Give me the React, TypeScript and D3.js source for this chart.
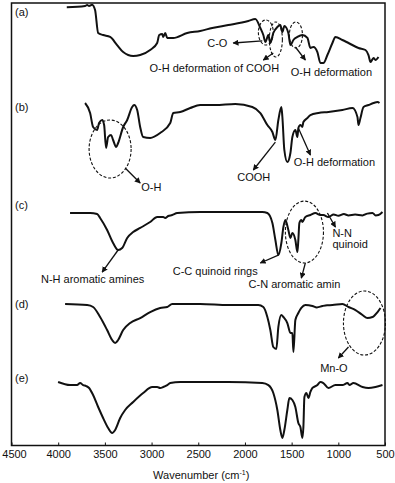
import { useEffect, useRef } from 'react';
import * as d3 from 'd3';

const W = 395;
const H = 483;
const margin = { top: 3, right: 10, bottom: 37.5, left: 11.5 };

// panels, stacked bottom (e) to top (a)
const panelNames = ['(a)', '(b)', '(c)', '(d)', '(e)'];
const panelOffsets = [400, 300, 200, 100, 0];
const panelLabelValues = [85, 78, 67, 55, 72];

const waveA = [3908, 3712, 3690, 3669, 3637, 3605, 3572, 3519, 3444, 3369, 3304, 3197, 3122, 3015, 2940, 2918, 2886, 2875, 2854, 2832, 2768, 2618, 2479, 2350, 2178, 1964, 1889, 1835, 1803, 1781, 1749, 1728, 1696, 1653, 1621, 1599, 1578, 1535, 1513, 1481, 1438, 1385, 1331, 1299, 1267, 1224, 1192, 1160, 1117, 1063, 1031, 956, 891, 784, 709, 677, 655, 623, 602, 570];
const transA = [95.1, 96.6, 97.7, 96.6, 98.1, 92.1, 66.1, 63.8, 61.6, 52.5, 44.6, 40.1, 41.2, 46.9, 54.8, 63.8, 65.0, 61.6, 66.1, 60.5, 60.5, 66.1, 68.4, 71.8, 75.1, 79.7, 81.9, 71.8, 63.8, 55.9, 63.8, 54.8, 66.1, 72.9, 75.1, 67.2, 74.0, 66.1, 52.5, 58.2, 61.6, 63.8, 60.5, 49.2, 50.3, 44.6, 32.2, 32.2, 41.2, 54.8, 61.6, 58.2, 54.8, 49.2, 46.9, 41.2, 33.3, 37.9, 35.6, 39.0];

const waveB = [3712, 3658, 3626, 3583, 3562, 3529, 3508, 3487, 3465, 3433, 3412, 3379, 3358, 3304, 3261, 3208, 3186, 3154, 3122, 3090, 3015, 2908, 2800, 2768, 2693, 2586, 2479, 2318, 2103, 1921, 1835, 1760, 1706, 1674, 1642, 1610, 1599, 1578, 1546, 1513, 1492, 1460, 1438, 1428, 1406, 1385, 1374, 1331, 1299, 1213, 1106, 956, 848, 795, 784, 763, 730, 677, 623, 580, 559];
const transB = [87.0, 75.7, 59.9, 56.5, 64.4, 67.8, 62.1, 36.2, 48.6, 50.8, 45.2, 37.3, 41.8, 59.9, 67.8, 82.5, 84.7, 79.1, 59.9, 48.6, 47.5, 53.1, 64.4, 75.7, 76.8, 81.3, 84.7, 84.7, 85.9, 82.5, 75.7, 62.1, 54.2, 45.2, 67.8, 82.5, 71.2, 33.9, 20.3, 30.5, 48.6, 56.5, 48.6, 58.8, 62.1, 59.9, 65.5, 70.0, 73.4, 75.7, 76.8, 79.1, 81.3, 71.2, 62.1, 70.0, 82.5, 84.7, 87.0, 88.1, 87.0];

const waveC = [3873, 3658, 3583, 3551, 3476, 3412, 3358, 3315, 3261, 3197, 3122, 3015, 2940, 2875, 2854, 2822, 2779, 2725, 2479, 2178, 1814, 1760, 1706, 1674, 1642, 1610, 1588, 1567, 1535, 1513, 1492, 1460, 1438, 1428, 1417, 1396, 1385, 1353, 1299, 1245, 1192, 1160, 1106, 1050, 999, 940, 891, 820, 741, 690, 634, 600, 570, 527];
const transC = [62.7, 62.7, 61.6, 57.0, 43.5, 28.8, 20.9, 23.2, 34.5, 41.2, 45.8, 52.5, 58.2, 58.2, 57.0, 59.3, 60.4, 62.7, 63.8, 63.8, 63.8, 62.7, 51.4, 32.2, 15.2, 28.8, 46.9, 54.8, 43.5, 34.5, 40.1, 32.2, 18.6, 32.2, 51.4, 54.8, 52.5, 58.2, 60.4, 62.7, 60.4, 60.4, 58.2, 61.0, 59.5, 61.5, 60.0, 61.0, 60.0, 62.0, 62.7, 60.0, 60.4, 63.8];

const waveD = [3926, 3690, 3626, 3551, 3476, 3422, 3390, 3358, 3304, 3229, 3122, 3015, 2908, 2832, 2779, 2479, 2178, 1857, 1803, 1760, 1728, 1696, 1664, 1642, 1610, 1588, 1546, 1513, 1492, 1481, 1460, 1428, 1396, 1353, 1277, 1230, 1170, 1120, 1063, 956, 891, 816, 741, 688, 634, 580, 548];
const transD = [59.9, 58.7, 56.5, 45.2, 30.5, 19.2, 15.8, 19.2, 30.5, 38.4, 44.0, 50.8, 55.4, 56.5, 59.9, 59.9, 58.7, 58.7, 56.5, 45.2, 30.5, 11.3, 9.0, 33.9, 47.5, 45.2, 38.4, 27.1, 27.1, 5.6, 41.8, 49.7, 55.4, 58.7, 57.6, 56.0, 57.6, 58.5, 58.7, 59.9, 56.5, 53.1, 47.5, 44.0, 45.2, 50.8, 55.4];

const waveE = [4001, 3873, 3798, 3765, 3733, 3701, 3669, 3626, 3572, 3519, 3465, 3422, 3390, 3336, 3283, 3197, 3090, 2993, 2940, 2908, 2875, 2832, 2800, 2693, 2479, 2178, 1814, 1749, 1696, 1653, 1621, 1599, 1578, 1546, 1524, 1492, 1460, 1428, 1406, 1385, 1374, 1363, 1342, 1320, 1299, 1277, 1224, 1192, 1160, 1106, 1031, 956, 902, 881, 838, 741, 677, 602, 527];
const transE = [71.7, 68.3, 68.3, 70.6, 68.3, 67.2, 65.0, 57.0, 43.5, 31.1, 19.8, 14.1, 17.5, 31.1, 40.1, 49.2, 59.3, 66.1, 66.1, 65.0, 66.1, 68.3, 70.6, 71.7, 71.7, 71.7, 70.6, 68.3, 59.3, 40.1, 17.5, 8.5, 17.5, 40.1, 53.7, 51.4, 43.5, 25.4, 20.9, 8.5, 20.9, 54.8, 59.3, 53.7, 60.5, 65.0, 68.3, 71.7, 70.6, 65.0, 68.3, 68.3, 70.6, 68.3, 70.6, 66.1, 65.0, 66.1, 68.3];

const waves = [waveA, waveB, waveC, waveD, waveE];
const trans = [transA, transB, transC, transD, transE];

// annotations, in (wavenumber, panel value)
const ellipses = [
  { panel: 0, w: 1776, v: 66.7, rw: 80, rv: 14.1 },
  { panel: 0, w: 1669, v: 58.8, rw: 70, rv: 19.8 },
  { panel: 0, w: 1454, v: 63.8, rw: 70, rv: 14.7 },
  { panel: 1, w: 3444, v: 35.0, rw: 225, rv: 32.8 },
  { panel: 2, w: 1363, v: 41.2, rw: 204, rv: 35 },
  { panel: 3, w: 720, v: 38.4, rw: 225, rv: 36.2 },
];

const arrows = [
  { panel: 0, w1: 1814, v1: 57.1, w2: 2125, v2: 54.8 },
  { panel: 0, w1: 1696, v1: 43.5, w2: 1803, v2: 35.6 },
  { panel: 0, w1: 1460, v1: 50.3, w2: 1353, v2: 35.6 },
  { panel: 1, w1: 3283, v1: 13.5, w2: 3122, v2: -3.4 },
  { panel: 1, w1: 1674, v1: 42.9, w2: 1910, v2: 11.3 },
  { panel: 1, w1: 1428, v1: 58.8, w2: 1299, v2: 28.2 },
  { panel: 2, w1: 3358, v1: 20.9, w2: 3529, v2: -4.0 },
  { panel: 2, w1: 1642, v1: 15.2, w2: 1835, v2: 6.2 },
  { panel: 2, w1: 1353, v1: 6.2, w2: 1396, v2: -10.8 },
  { panel: 2, w1: 1117, v1: 62.7, w2: 1031, v2: 46.9 },
  { panel: 3, w1: 891, v1: 11.3, w2: 999, v2: -1.2 },
];

const notes = [
  { panel: 0, text: 'C-O', w: 2296, v: 50.3, anchor: 'middle' },
  { panel: 0, text: 'O-H deformation of COOH', w: 2328, v: 22, anchor: 'middle' },
  { panel: 0, text: 'O-H deformation', w: 1074, v: 17.5, anchor: 'middle' },
  { panel: 1, text: 'O-H', w: 3111, v: -12.4, anchor: 'start' },
  { panel: 1, text: 'COOH', w: 1905, v: -1.1, anchor: 'middle' },
  { panel: 1, text: 'O-H deformation', w: 1042, v: 15.8, anchor: 'middle' },
  { panel: 2, text: 'N-H aromatic amines', w: 3631, v: -16.4, anchor: 'middle' },
  { panel: 2, text: 'C-C quinoid rings', w: 2318, v: -7.4, anchor: 'middle' },
  { panel: 2, text: 'C-N aromatic amin', w: 1470, v: -22, anchor: 'middle' },
  { panel: 2, text: 'N-N', w: 1063, v: 35.6, anchor: 'start' },
  { panel: 2, text: 'quinoid', w: 1063, v: 23.2, anchor: 'start' },
  { panel: 3, text: 'Mn-O', w: 1047, v: -17, anchor: 'middle' },
];

const font = "'Liberation Sans', Arial, sans-serif";

export default function App() {
  const ref = useRef<SVGSVGElement>(null);

  useEffect(() => {
    const svg = d3.select(ref.current);
    svg.selectAll('*').remove();

    const x = d3.scaleLinear().domain([4500, 500]).range([margin.left, W - margin.right]);
    const y = d3.scaleLinear().domain([0, 500]).range([H - margin.bottom, margin.top]);
    const py = (v: number, p: number) => y(v + panelOffsets[p]);

    svg.append('defs').append('marker')
      .attr('id', 'head')
      .attr('viewBox', '0 0 8 8')
      .attr('refX', 7).attr('refY', 4)
      .attr('markerWidth', 6).attr('markerHeight', 6)
      .attr('markerUnits', 'userSpaceOnUse')
      .attr('orient', 'auto')
      .append('path').attr('d', 'M0,0 L8,4 L0,8 z').attr('fill', '#111');

    // spectra
    const line = d3.line<[number, number]>()
      .x((d) => x(d[0]))
      .y((d) => d[1])
      .curve(d3.curveMonotoneX);

    waves.forEach((ws, p) => {
      const pts: [number, number][] = ws.map((w, i) => [w, py(trans[p][i], p)]);
      svg.append('path')
        .attr('d', line(pts))
        .attr('fill', 'none')
        .attr('stroke', '#111')
        .attr('stroke-width', 2)
        .attr('stroke-linejoin', 'round');
    });

    // dashed ellipses
    svg.selectAll('ellipse').data(ellipses).join('ellipse')
      .attr('cx', (d) => x(d.w))
      .attr('cy', (d) => py(d.v, d.panel))
      .attr('rx', (d) => Math.abs(x(d.w + d.rw) - x(d.w)))
      .attr('ry', (d) => Math.abs(y(0) - y(d.rv)))
      .attr('fill', 'none')
      .attr('stroke', '#111')
      .attr('stroke-width', 1.1)
      .attr('stroke-dasharray', '3,1.8');

    svg.selectAll('line.arrow').data(arrows).join('line')
      .attr('class', 'arrow')
      .attr('x1', (d) => x(d.w1)).attr('y1', (d) => py(d.v1, d.panel))
      .attr('x2', (d) => x(d.w2)).attr('y2', (d) => py(d.v2, d.panel))
      .attr('stroke', '#111')
      .attr('stroke-width', 1.3)
      .attr('marker-end', 'url(#head)');

    svg.selectAll('text.note').data(notes).join('text')
      .attr('class', 'note')
      .attr('x', (d) => x(d.w))
      .attr('y', (d) => py(d.v, d.panel))
      .attr('text-anchor', (d) => d.anchor)
      .style('font-family', font)
      .style('font-size', '11px')
      .attr('fill', '#111')
      .text((d) => d.text);

    // panel tags
    svg.selectAll('text.tag').data(panelNames).join('text')
      .attr('class', 'tag')
      .attr('x', margin.left + 3.5)
      .attr('y', (d, i) => py(panelLabelValues[i], i))
      .style('font-family', font)
      .style('font-size', '11px')
      .attr('fill', '#111')
      .text((d) => d);

    // frame
    svg.append('rect')
      .attr('x', margin.left).attr('y', margin.top)
      .attr('width', W - margin.left - margin.right)
      .attr('height', H - margin.top - margin.bottom)
      .attr('fill', 'none')
      .attr('stroke', '#111')
      .attr('stroke-width', 1.5);

    // axis
    const gx = svg.append('g').attr('transform', `translate(0,${H - margin.bottom})`);
    gx.call(d3.axisBottom(x).tickValues(d3.range(600, 4500, 100)).tickFormat(() => '').tickSizeInner(-2.5).tickSizeOuter(0));
    gx.call(d3.axisBottom(x).tickValues(d3.range(500, 4501, 500)).tickSizeInner(-3).tickSizeOuter(0).tickPadding(5).tickFormat(d3.format('d')));
    gx.selectAll('.domain').remove();
    gx.selectAll('line').attr('stroke', '#111').attr('stroke-width', 1);
    gx.selectAll('text').style('font-family', font).style('font-size', '11px').attr('fill', '#111');
    gx.selectAll('text').filter((d) => d === 4500).attr('dx', 2.5);

    const title = svg.append('text')
      .attr('x', (margin.left + W - margin.right) / 2 + 3)
      .attr('y', 479)
      .attr('text-anchor', 'middle')
      .style('font-family', font)
      .style('font-size', '11px')
      .attr('fill', '#111');
    title.append('tspan').text('Wavenumber (cm');
    title.append('tspan').attr('dy', -4).style('font-size', '7px').text('-1');
    title.append('tspan').attr('dy', 4).text(')');
  }, []);

  return (
    <svg
      ref={ref}
      width={W}
      height={H}
      style={{ position: 'absolute', left: 0, top: 0, background: '#fff' }}
    />
  );
}
